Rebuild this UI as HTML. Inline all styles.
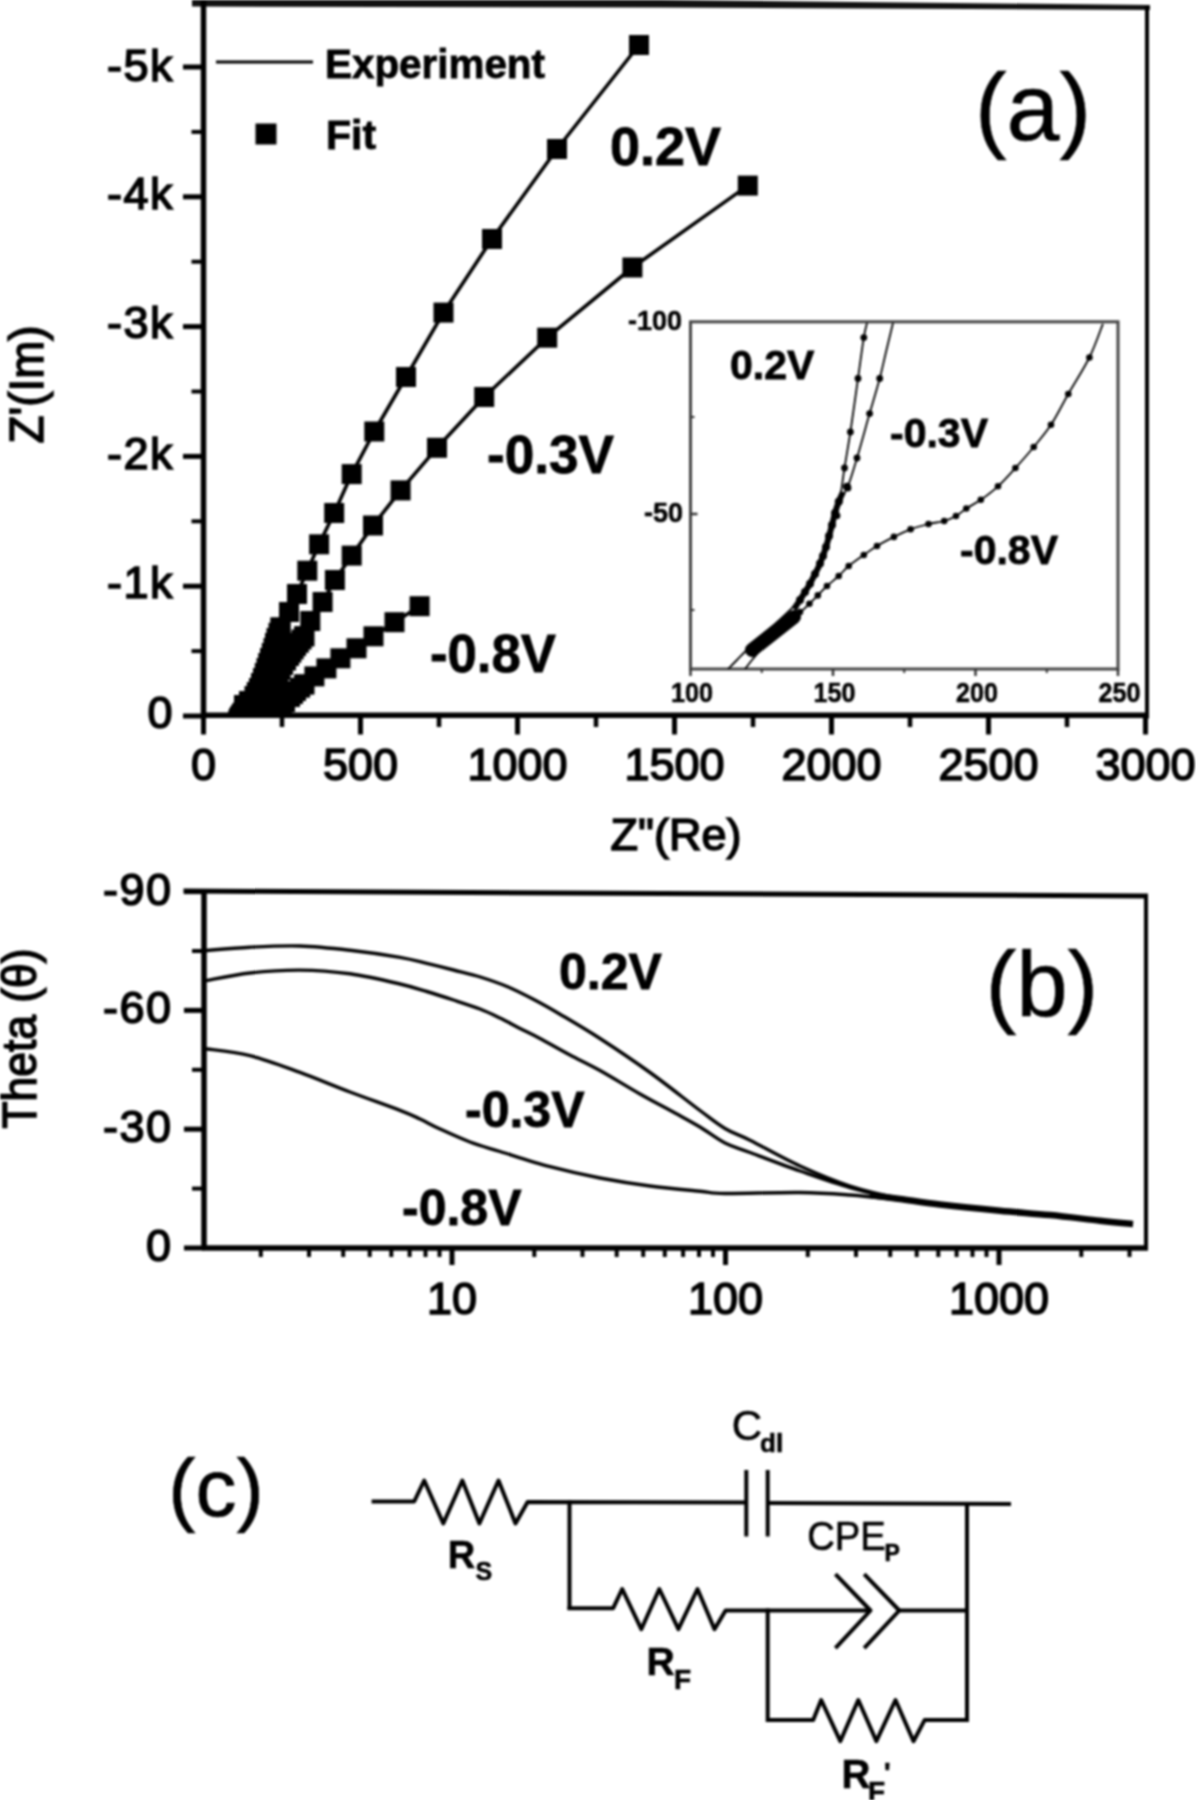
<!DOCTYPE html>
<html><head><meta charset="utf-8"><style>
html,body{margin:0;padding:0;background:#fff;}
svg{display:block;filter:blur(1px);}
text{font-family:"Liberation Sans",sans-serif;fill:#000;}
.lab{stroke:#000;stroke-width:1.6px;}
.big{stroke:#000;stroke-width:0.6px;}
.sm{stroke:#000;stroke-width:0.5px;}
.cl{stroke:#000;stroke-width:0.6px;}
.bd{stroke:#000;stroke-width:0.8px;}
</style></head><body>
<svg width="1196" height="1800" viewBox="0 0 1196 1800">
<rect width="1196" height="1800" fill="#fff"/>
<polygon points="192,0 660,0 1150,5 1150,10 660,7.5 192,6.5" fill="#111"/>
<line x1="203.5" y1="0.0" x2="203.5" y2="718.5" stroke="#000" stroke-width="5.5"/>
<line x1="201.0" y1="715.2" x2="1149.0" y2="715.2" stroke="#000" stroke-width="5.5"/>
<line x1="1147.0" y1="6.0" x2="1147.0" y2="718.5" stroke="#000" stroke-width="4"/>
<line x1="183.0" y1="716.0" x2="203.0" y2="716.0" stroke="#000" stroke-width="5"/>
<line x1="183.0" y1="586.2" x2="203.0" y2="586.2" stroke="#000" stroke-width="5"/>
<line x1="183.0" y1="456.4" x2="203.0" y2="456.4" stroke="#000" stroke-width="5"/>
<line x1="183.0" y1="326.6" x2="203.0" y2="326.6" stroke="#000" stroke-width="5"/>
<line x1="183.0" y1="196.8" x2="203.0" y2="196.8" stroke="#000" stroke-width="5"/>
<line x1="183.0" y1="67.0" x2="203.0" y2="67.0" stroke="#000" stroke-width="5"/>
<line x1="191.5" y1="651.1" x2="203.0" y2="651.1" stroke="#000" stroke-width="4"/>
<line x1="191.5" y1="521.3" x2="203.0" y2="521.3" stroke="#000" stroke-width="4"/>
<line x1="191.5" y1="391.5" x2="203.0" y2="391.5" stroke="#000" stroke-width="4"/>
<line x1="191.5" y1="261.7" x2="203.0" y2="261.7" stroke="#000" stroke-width="4"/>
<line x1="191.5" y1="131.9" x2="203.0" y2="131.9" stroke="#000" stroke-width="4"/>
<line x1="203.5" y1="715.0" x2="203.5" y2="734.5" stroke="#000" stroke-width="5"/>
<line x1="360.5" y1="715.0" x2="360.5" y2="734.5" stroke="#000" stroke-width="5"/>
<line x1="517.5" y1="715.0" x2="517.5" y2="734.5" stroke="#000" stroke-width="5"/>
<line x1="674.5" y1="715.0" x2="674.5" y2="734.5" stroke="#000" stroke-width="5"/>
<line x1="831.5" y1="715.0" x2="831.5" y2="734.5" stroke="#000" stroke-width="5"/>
<line x1="988.5" y1="715.0" x2="988.5" y2="734.5" stroke="#000" stroke-width="5"/>
<line x1="1145.5" y1="715.0" x2="1145.5" y2="734.5" stroke="#000" stroke-width="5"/>
<line x1="282.0" y1="715.0" x2="282.0" y2="727.0" stroke="#000" stroke-width="4.5"/>
<line x1="439.0" y1="715.0" x2="439.0" y2="727.0" stroke="#000" stroke-width="4.5"/>
<line x1="596.0" y1="715.0" x2="596.0" y2="727.0" stroke="#000" stroke-width="4.5"/>
<line x1="753.0" y1="715.0" x2="753.0" y2="727.0" stroke="#000" stroke-width="4.5"/>
<line x1="910.0" y1="715.0" x2="910.0" y2="727.0" stroke="#000" stroke-width="4.5"/>
<line x1="1067.0" y1="715.0" x2="1067.0" y2="727.0" stroke="#000" stroke-width="4.5"/>
<text x="174.0" y="727.5" font-size="45" text-anchor="end" font-weight="normal" class="lab" letter-spacing="1.5">0</text>
<text x="174.0" y="598.4" font-size="45" text-anchor="end" font-weight="normal" class="lab" letter-spacing="1.5">-1k</text>
<text x="174.0" y="468.6" font-size="45" text-anchor="end" font-weight="normal" class="lab" letter-spacing="1.5">-2k</text>
<text x="174.0" y="338.3" font-size="45" text-anchor="end" font-weight="normal" class="lab" letter-spacing="1.5">-3k</text>
<text x="174.0" y="208.8" font-size="45" text-anchor="end" font-weight="normal" class="lab" letter-spacing="1.5">-4k</text>
<text x="174.0" y="81.3" font-size="45" text-anchor="end" font-weight="normal" class="lab" letter-spacing="1.5">-5k</text>
<text x="203.5" y="780.0" font-size="45" text-anchor="middle" font-weight="normal" class="lab">0</text>
<text x="360.5" y="780.0" font-size="45" text-anchor="middle" font-weight="normal" class="lab">500</text>
<text x="517.5" y="780.0" font-size="45" text-anchor="middle" font-weight="normal" class="lab">1000</text>
<text x="674.5" y="780.0" font-size="45" text-anchor="middle" font-weight="normal" class="lab">1500</text>
<text x="831.5" y="780.0" font-size="45" text-anchor="middle" font-weight="normal" class="lab">2000</text>
<text x="988.5" y="780.0" font-size="45" text-anchor="middle" font-weight="normal" class="lab">2500</text>
<text x="1145.5" y="780.0" font-size="45" text-anchor="middle" font-weight="normal" class="lab">3000</text>
<text x="676.0" y="850.0" font-size="45" text-anchor="middle" font-weight="normal" class="lab">Z"(Re)</text>
<text transform="translate(43,384.5) rotate(-90)" font-size="49" text-anchor="middle" class="lab" textLength="118" lengthAdjust="spacingAndGlyphs">Z'(Im)</text>
<line x1="216.0" y1="62.0" x2="313.0" y2="62.0" stroke="#000" stroke-width="3"/>
<text x="325.0" y="78.0" font-size="41" text-anchor="start" font-weight="bold" class="bd" textLength="220" lengthAdjust="spacingAndGlyphs">Experiment</text>
<rect x="255.5" y="123.5" width="21" height="21"/>
<text x="326.0" y="149.0" font-size="41" text-anchor="start" font-weight="bold" class="bd">Fit</text>
<text x="1033.0" y="139.5" font-size="95" text-anchor="middle" font-weight="normal" class="big">(a)</text>
<text x="610.0" y="165.0" font-size="54" text-anchor="start" font-weight="bold" class="bd">0.2V</text>
<text x="487.0" y="472.5" font-size="54" text-anchor="start" font-weight="bold" class="bd" textLength="127" lengthAdjust="spacingAndGlyphs">-0.3V</text>
<text x="430.0" y="671.5" font-size="54" text-anchor="start" font-weight="bold" class="bd" textLength="126" lengthAdjust="spacingAndGlyphs">-0.8V</text>
<polyline points="639.0,45.0 557.0,149.0 492.0,239.0 443.5,312.6 406.0,377.0 374.3,431.5 351.7,474.1 334.2,513.0 319.1,544.3 307.3,570.7 297.0,594.0 289.0,612.0 280.5,627.5 276.5,638.0 273.5,648.0 270.0,658.0 266.5,668.0 263.0,678.0 259.0,688.0 254.5,696.0 249.0,701.0 244.0,705.0" fill="none" stroke="#000" stroke-width="3.6" stroke-linejoin="round" />
<rect x="629.0" y="35.0" width="20" height="20"/>
<rect x="547.0" y="139.0" width="20" height="20"/>
<rect x="482.0" y="229.0" width="20" height="20"/>
<rect x="433.5" y="302.6" width="20" height="20"/>
<rect x="396.0" y="367.0" width="20" height="20"/>
<rect x="364.3" y="421.5" width="20" height="20"/>
<rect x="341.7" y="464.1" width="20" height="20"/>
<rect x="324.2" y="503.0" width="20" height="20"/>
<rect x="309.1" y="534.3" width="20" height="20"/>
<rect x="297.3" y="560.7" width="20" height="20"/>
<rect x="287.0" y="584.0" width="20" height="20"/>
<rect x="279.0" y="602.0" width="20" height="20"/>
<rect x="270.5" y="617.5" width="20" height="20"/>
<rect x="270.5" y="617.5" width="20" height="20"/>
<rect x="268.5" y="622.8" width="20" height="20"/>
<rect x="266.5" y="628.0" width="20" height="20"/>
<rect x="265.0" y="633.0" width="20" height="20"/>
<rect x="263.5" y="638.0" width="20" height="20"/>
<rect x="261.8" y="643.0" width="20" height="20"/>
<rect x="260.0" y="648.0" width="20" height="20"/>
<rect x="258.2" y="653.0" width="20" height="20"/>
<rect x="256.5" y="658.0" width="20" height="20"/>
<rect x="254.8" y="663.0" width="20" height="20"/>
<rect x="253.0" y="668.0" width="20" height="20"/>
<rect x="251.0" y="673.0" width="20" height="20"/>
<rect x="249.0" y="678.0" width="20" height="20"/>
<rect x="246.8" y="682.0" width="20" height="20"/>
<rect x="244.5" y="686.0" width="20" height="20"/>
<rect x="239.0" y="691.0" width="20" height="20"/>
<rect x="234.0" y="695.0" width="20" height="20"/>
<polyline points="747.8,185.6 632.4,267.5 547.2,337.7 484.2,397.0 437.0,447.8 400.6,490.4 373.0,525.5 351.7,555.6 334.9,580.0 322.6,602.0 310.3,621.0 304.3,636.3 296.0,646.0 289.0,656.0 283.0,665.0 278.0,675.0 273.0,685.0 268.0,695.0 263.0,703.0 258.0,706.0" fill="none" stroke="#000" stroke-width="3.6" stroke-linejoin="round" />
<rect x="737.8" y="175.6" width="20" height="20"/>
<rect x="622.4" y="257.5" width="20" height="20"/>
<rect x="537.2" y="327.7" width="20" height="20"/>
<rect x="474.2" y="387.0" width="20" height="20"/>
<rect x="427.0" y="437.8" width="20" height="20"/>
<rect x="390.6" y="480.4" width="20" height="20"/>
<rect x="363.0" y="515.5" width="20" height="20"/>
<rect x="341.7" y="545.6" width="20" height="20"/>
<rect x="324.9" y="570.0" width="20" height="20"/>
<rect x="312.6" y="592.0" width="20" height="20"/>
<rect x="300.3" y="611.0" width="20" height="20"/>
<rect x="294.3" y="626.3" width="20" height="20"/>
<rect x="294.3" y="626.3" width="20" height="20"/>
<rect x="291.5" y="629.5" width="20" height="20"/>
<rect x="288.8" y="632.8" width="20" height="20"/>
<rect x="286.0" y="636.0" width="20" height="20"/>
<rect x="283.7" y="639.3" width="20" height="20"/>
<rect x="281.3" y="642.7" width="20" height="20"/>
<rect x="279.0" y="646.0" width="20" height="20"/>
<rect x="276.0" y="650.5" width="20" height="20"/>
<rect x="273.0" y="655.0" width="20" height="20"/>
<rect x="270.5" y="660.0" width="20" height="20"/>
<rect x="268.0" y="665.0" width="20" height="20"/>
<rect x="265.5" y="670.0" width="20" height="20"/>
<rect x="263.0" y="675.0" width="20" height="20"/>
<rect x="260.5" y="680.0" width="20" height="20"/>
<rect x="258.0" y="685.0" width="20" height="20"/>
<rect x="255.5" y="689.0" width="20" height="20"/>
<rect x="253.0" y="693.0" width="20" height="20"/>
<rect x="248.0" y="696.0" width="20" height="20"/>
<polyline points="419.6,606.2 394.5,622.2 373.5,636.3 356.5,648.3 340.4,658.3 326.4,668.4 314.4,676.4 304.3,684.4 296.0,691.0 290.0,697.0 285.0,702.0 282.0,706.0" fill="none" stroke="#000" stroke-width="3.6" stroke-linejoin="round" />
<rect x="409.6" y="596.2" width="20" height="20"/>
<rect x="384.5" y="612.2" width="20" height="20"/>
<rect x="363.5" y="626.3" width="20" height="20"/>
<rect x="346.5" y="638.3" width="20" height="20"/>
<rect x="330.4" y="648.3" width="20" height="20"/>
<rect x="316.4" y="658.4" width="20" height="20"/>
<rect x="304.4" y="666.4" width="20" height="20"/>
<rect x="294.3" y="674.4" width="20" height="20"/>
<rect x="294.3" y="674.4" width="20" height="20"/>
<rect x="290.1" y="677.7" width="20" height="20"/>
<rect x="286.0" y="681.0" width="20" height="20"/>
<rect x="283.0" y="684.0" width="20" height="20"/>
<rect x="280.0" y="687.0" width="20" height="20"/>
<rect x="275.0" y="692.0" width="20" height="20"/>
<rect x="272.0" y="696.0" width="20" height="20"/>
<polygon points="227,716 229,709 233,703 238,699 244,697 246,716"/>
<rect x="690.5" y="321.8" width="427.5" height="347.2" fill="#fff" stroke="#444" stroke-width="3"/>
<line x1="690.5" y1="669.0" x2="690.5" y2="676.0" stroke="#333" stroke-width="2.5"/>
<line x1="833.0" y1="669.0" x2="833.0" y2="676.0" stroke="#333" stroke-width="2.5"/>
<line x1="975.5" y1="669.0" x2="975.5" y2="676.0" stroke="#333" stroke-width="2.5"/>
<line x1="1118.0" y1="669.0" x2="1118.0" y2="676.0" stroke="#333" stroke-width="2.5"/>
<line x1="761.8" y1="669.0" x2="761.8" y2="673.0" stroke="#333" stroke-width="2"/>
<line x1="904.2" y1="669.0" x2="904.2" y2="673.0" stroke="#333" stroke-width="2"/>
<line x1="1046.8" y1="669.0" x2="1046.8" y2="673.0" stroke="#333" stroke-width="2"/>
<line x1="690.5" y1="514.0" x2="697.5" y2="514.0" stroke="#333" stroke-width="2.5"/>
<line x1="690.5" y1="417.0" x2="694.5" y2="417.0" stroke="#333" stroke-width="2"/>
<line x1="690.5" y1="610.0" x2="694.5" y2="610.0" stroke="#333" stroke-width="2"/>
<text x="692.0" y="701.5" font-size="27.5" text-anchor="middle" font-weight="bold" class="sm" textLength="42" lengthAdjust="spacingAndGlyphs">100</text>
<text x="834.5" y="701.5" font-size="27.5" text-anchor="middle" font-weight="bold" class="sm" textLength="42" lengthAdjust="spacingAndGlyphs">150</text>
<text x="977.0" y="701.5" font-size="27.5" text-anchor="middle" font-weight="bold" class="sm" textLength="42" lengthAdjust="spacingAndGlyphs">200</text>
<text x="1119.5" y="701.5" font-size="27.5" text-anchor="middle" font-weight="bold" class="sm" textLength="42" lengthAdjust="spacingAndGlyphs">250</text>
<text x="682.0" y="329.5" font-size="27" text-anchor="end" font-weight="bold" class="sm" textLength="54" lengthAdjust="spacingAndGlyphs">-100</text>
<text x="683.0" y="521.5" font-size="27" text-anchor="end" font-weight="bold" class="sm" textLength="39" lengthAdjust="spacingAndGlyphs">-50</text>
<text x="730.0" y="379.0" font-size="41" text-anchor="start" font-weight="bold" class="bd">0.2V</text>
<text x="890.0" y="447.0" font-size="41" text-anchor="start" font-weight="bold" class="bd">-0.3V</text>
<text x="960.0" y="564.0" font-size="41" text-anchor="start" font-weight="bold" class="bd">-0.8V</text>
<clipPath id="ic"><rect x="690.5" y="321.8" width="427.5" height="347.2"/></clipPath>
<g clip-path="url(#ic)">
<path d="M728.0,669.0 C729.5,667.5 733.9,663.2 737.0,660.0 C740.1,656.8 742.9,653.8 746.7,650.0 C750.5,646.2 755.3,641.3 760.0,637.0 C764.7,632.7 770.0,628.5 775.0,624.0 C780.0,619.5 785.8,614.2 790.0,610.0 C794.2,605.8 796.7,603.5 800.0,599.0 C803.3,594.5 806.7,589.0 810.0,583.0 C813.3,577.0 817.3,569.2 820.0,563.0 C822.7,556.8 824.2,552.2 826.0,546.0 C827.8,539.8 829.5,531.7 831.0,526.0 C832.5,520.3 833.6,516.2 835.0,512.0 C836.4,507.8 837.9,507.9 839.5,500.6 C841.1,493.3 842.7,479.4 844.5,468.0 C846.3,456.6 848.1,446.9 850.4,432.0 C852.6,417.1 855.8,394.2 858.0,378.5 C860.2,362.8 862.3,346.9 863.8,337.6 C865.3,328.4 866.5,325.4 867.0,323.0" fill="none" stroke="#000" stroke-width="1.8" stroke-linejoin="round"/>
<path d="M745.0,669.0 C746.2,667.5 749.2,663.5 752.0,660.0 C754.8,656.5 758.2,652.7 762.0,648.0 C765.8,643.3 770.3,637.2 775.0,632.0 C779.7,626.8 785.8,621.8 790.0,617.0 C794.2,612.2 796.7,608.3 800.0,603.0 C803.3,597.7 806.7,591.3 810.0,585.0 C813.3,578.7 817.3,571.2 820.0,565.0 C822.7,558.8 824.0,554.3 826.0,548.0 C828.0,541.7 830.2,532.8 832.0,527.0 C833.8,521.2 835.5,517.7 837.0,513.0 C838.5,508.3 839.2,503.5 841.0,499.0 C842.8,494.5 845.3,492.8 848.0,486.0 C850.7,479.2 853.4,470.1 857.0,458.0 C860.6,445.9 865.8,426.9 869.6,413.6 C873.4,400.4 877.0,388.8 879.7,378.5 C882.4,368.2 883.8,361.2 886.0,352.0 C888.2,342.8 891.8,327.8 893.0,323.0" fill="none" stroke="#000" stroke-width="1.8" stroke-linejoin="round"/>
<path d="M760.0,640.0 C763.3,637.0 773.3,626.7 780.0,622.0 C786.7,617.3 795.1,615.0 800.0,612.0 C804.9,609.0 806.4,606.5 809.4,603.7 C812.4,600.9 814.9,598.4 817.8,595.4 C820.7,592.4 823.5,589.2 827.0,586.0 C830.5,582.8 835.1,579.3 838.7,576.0 C842.3,572.7 844.5,569.5 848.7,566.0 C852.9,562.5 859.1,558.3 863.8,555.0 C868.5,551.7 872.0,549.0 877.0,546.0 C882.0,543.0 888.3,539.7 893.9,536.9 C899.5,534.1 904.8,531.4 910.6,529.3 C916.4,527.1 922.9,525.4 928.5,524.0 C934.1,522.6 939.6,522.3 944.2,521.0 C948.8,519.7 952.3,518.1 956.0,516.0 C959.7,513.9 962.2,511.2 966.3,508.5 C970.4,505.8 975.5,503.5 980.8,499.8 C986.1,496.1 992.2,491.6 998.0,486.3 C1003.8,481.0 1009.4,474.6 1015.4,468.0 C1021.4,461.4 1027.8,454.2 1033.7,447.0 C1039.6,439.8 1045.2,433.6 1051.0,424.8 C1056.8,416.0 1061.9,405.2 1068.3,394.0 C1074.7,382.8 1083.6,369.2 1089.4,357.5 C1095.2,345.8 1100.7,329.4 1102.9,323.8" fill="none" stroke="#000" stroke-width="1.8" stroke-linejoin="round"/>
<circle cx="863.8" cy="337.6" r="3.4"/>
<circle cx="858.0" cy="378.5" r="3.4"/>
<circle cx="850.4" cy="432.0" r="3.4"/>
<circle cx="844.5" cy="468.0" r="3.4"/>
<circle cx="839.5" cy="500.6" r="3.4"/>
<circle cx="837.0" cy="515.7" r="3.4"/>
<circle cx="879.7" cy="378.5" r="3.4"/>
<circle cx="869.6" cy="413.6" r="3.4"/>
<circle cx="857.0" cy="458.0" r="3.4"/>
<circle cx="848.0" cy="488.0" r="3.4"/>
<circle cx="847.0" cy="486.7" r="4"/>
<circle cx="838.7" cy="501.7" r="4"/>
<circle cx="835.0" cy="513.0" r="4"/>
<circle cx="832.0" cy="525.0" r="4"/>
<circle cx="829.0" cy="536.0" r="4"/>
<circle cx="826.0" cy="547.0" r="4"/>
<circle cx="823.0" cy="556.0" r="4"/>
<circle cx="820.0" cy="563.6" r="4"/>
<circle cx="815.0" cy="574.0" r="4"/>
<circle cx="810.0" cy="583.7" r="4"/>
<circle cx="805.0" cy="592.0" r="4"/>
<circle cx="800.0" cy="600.0" r="4"/>
<circle cx="800.0" cy="612.0" r="3.3"/>
<circle cx="809.4" cy="603.7" r="3.3"/>
<circle cx="817.8" cy="595.4" r="3.3"/>
<circle cx="827.0" cy="586.0" r="3.3"/>
<circle cx="838.7" cy="576.0" r="3.3"/>
<circle cx="848.7" cy="566.0" r="3.3"/>
<circle cx="863.8" cy="555.0" r="3.3"/>
<circle cx="877.0" cy="546.0" r="3.3"/>
<circle cx="893.9" cy="536.9" r="3.3"/>
<circle cx="910.6" cy="529.3" r="3.3"/>
<circle cx="928.5" cy="524.0" r="3.3"/>
<circle cx="944.2" cy="521.0" r="3.3"/>
<circle cx="956.0" cy="516.0" r="3.3"/>
<circle cx="966.3" cy="508.5" r="3.3"/>
<circle cx="980.8" cy="499.8" r="3.3"/>
<circle cx="998.0" cy="486.3" r="3.3"/>
<circle cx="1015.4" cy="468.0" r="3.3"/>
<circle cx="1033.7" cy="447.0" r="3.3"/>
<circle cx="1051.0" cy="424.8" r="3.3"/>
<circle cx="1068.3" cy="394.0" r="3.3"/>
<circle cx="1089.4" cy="357.5" r="3.3"/>
<line x1="752" y1="650" x2="794" y2="617" stroke="#000" stroke-width="14" stroke-linecap="round"/>
<path d="M794.0,609.0 C795.0,607.5 798.2,602.8 800.0,600.0 C801.8,597.2 803.3,594.7 805.0,592.0 C806.7,589.3 808.3,586.7 810.0,583.7 C811.7,580.7 813.3,577.4 815.0,574.0 C816.7,570.6 818.2,568.1 820.0,563.6 C821.8,559.1 824.0,553.4 826.0,547.0 C828.0,540.6 830.5,530.7 832.0,525.0 C833.5,519.3 833.9,516.9 835.0,513.0 C836.1,509.1 837.4,505.2 838.7,501.7 C840.0,498.2 842.3,493.6 843.0,492.0" fill="none" stroke="#000" stroke-width="6" stroke-linejoin="round"/>
</g>
<polygon points="183.5,888.5 1148,893.5 1148,898.5 183.5,893.5" fill="#000"/>
<line x1="204.0" y1="889.0" x2="204.0" y2="1250.0" stroke="#000" stroke-width="5.5"/>
<line x1="202.0" y1="1248.0" x2="1148.0" y2="1248.0" stroke="#000" stroke-width="5.5"/>
<line x1="1146.0" y1="894.0" x2="1146.0" y2="1250.0" stroke="#000" stroke-width="4"/>
<line x1="184.0" y1="1248.0" x2="204.0" y2="1248.0" stroke="#000" stroke-width="5"/>
<text x="172.5" y="1261.0" font-size="45" text-anchor="end" font-weight="normal" class="lab" letter-spacing="1.5">0</text>
<line x1="184.0" y1="1129.2" x2="204.0" y2="1129.2" stroke="#000" stroke-width="5"/>
<text x="172.5" y="1142.2" font-size="45" text-anchor="end" font-weight="normal" class="lab" letter-spacing="1.5">-30</text>
<line x1="184.0" y1="1010.4" x2="204.0" y2="1010.4" stroke="#000" stroke-width="5"/>
<text x="172.5" y="1023.4" font-size="45" text-anchor="end" font-weight="normal" class="lab" letter-spacing="1.5">-60</text>
<line x1="184.0" y1="891.6" x2="204.0" y2="891.6" stroke="#000" stroke-width="5"/>
<text x="172.5" y="904.6" font-size="45" text-anchor="end" font-weight="normal" class="lab" letter-spacing="1.5">-90</text>
<line x1="192.0" y1="1188.6" x2="204.0" y2="1188.6" stroke="#000" stroke-width="4"/>
<line x1="192.0" y1="1069.8" x2="204.0" y2="1069.8" stroke="#000" stroke-width="4"/>
<line x1="192.0" y1="951.0" x2="204.0" y2="951.0" stroke="#000" stroke-width="4"/>
<line x1="260.8" y1="1248.0" x2="260.8" y2="1257.0" stroke="#000" stroke-width="4"/>
<line x1="309.0" y1="1248.0" x2="309.0" y2="1257.0" stroke="#000" stroke-width="4"/>
<line x1="343.2" y1="1248.0" x2="343.2" y2="1257.0" stroke="#000" stroke-width="4"/>
<line x1="369.7" y1="1248.0" x2="369.7" y2="1257.0" stroke="#000" stroke-width="4"/>
<line x1="391.3" y1="1248.0" x2="391.3" y2="1257.0" stroke="#000" stroke-width="4"/>
<line x1="409.6" y1="1248.0" x2="409.6" y2="1257.0" stroke="#000" stroke-width="4"/>
<line x1="425.5" y1="1248.0" x2="425.5" y2="1257.0" stroke="#000" stroke-width="4"/>
<line x1="439.5" y1="1248.0" x2="439.5" y2="1257.0" stroke="#000" stroke-width="4"/>
<line x1="452.0" y1="1248.0" x2="452.0" y2="1265.0" stroke="#000" stroke-width="5"/>
<line x1="534.3" y1="1248.0" x2="534.3" y2="1257.0" stroke="#000" stroke-width="4"/>
<line x1="582.5" y1="1248.0" x2="582.5" y2="1257.0" stroke="#000" stroke-width="4"/>
<line x1="616.7" y1="1248.0" x2="616.7" y2="1257.0" stroke="#000" stroke-width="4"/>
<line x1="643.2" y1="1248.0" x2="643.2" y2="1257.0" stroke="#000" stroke-width="4"/>
<line x1="664.8" y1="1248.0" x2="664.8" y2="1257.0" stroke="#000" stroke-width="4"/>
<line x1="683.1" y1="1248.0" x2="683.1" y2="1257.0" stroke="#000" stroke-width="4"/>
<line x1="699.0" y1="1248.0" x2="699.0" y2="1257.0" stroke="#000" stroke-width="4"/>
<line x1="713.0" y1="1248.0" x2="713.0" y2="1257.0" stroke="#000" stroke-width="4"/>
<line x1="725.5" y1="1248.0" x2="725.5" y2="1265.0" stroke="#000" stroke-width="5"/>
<line x1="807.8" y1="1248.0" x2="807.8" y2="1257.0" stroke="#000" stroke-width="4"/>
<line x1="856.0" y1="1248.0" x2="856.0" y2="1257.0" stroke="#000" stroke-width="4"/>
<line x1="890.2" y1="1248.0" x2="890.2" y2="1257.0" stroke="#000" stroke-width="4"/>
<line x1="916.7" y1="1248.0" x2="916.7" y2="1257.0" stroke="#000" stroke-width="4"/>
<line x1="938.3" y1="1248.0" x2="938.3" y2="1257.0" stroke="#000" stroke-width="4"/>
<line x1="956.6" y1="1248.0" x2="956.6" y2="1257.0" stroke="#000" stroke-width="4"/>
<line x1="972.5" y1="1248.0" x2="972.5" y2="1257.0" stroke="#000" stroke-width="4"/>
<line x1="986.5" y1="1248.0" x2="986.5" y2="1257.0" stroke="#000" stroke-width="4"/>
<line x1="999.0" y1="1248.0" x2="999.0" y2="1265.0" stroke="#000" stroke-width="5"/>
<line x1="1081.3" y1="1248.0" x2="1081.3" y2="1257.0" stroke="#000" stroke-width="4"/>
<line x1="1129.5" y1="1248.0" x2="1129.5" y2="1257.0" stroke="#000" stroke-width="4"/>
<text x="452.0" y="1314.0" font-size="45" text-anchor="middle" font-weight="normal" class="lab">10</text>
<text x="725.5" y="1314.0" font-size="45" text-anchor="middle" font-weight="normal" class="lab">100</text>
<text x="999.0" y="1314.0" font-size="45" text-anchor="middle" font-weight="normal" class="lab">1000</text>
<text transform="translate(35.5,1038.5) rotate(-90)" font-size="49" text-anchor="middle" class="lab" textLength="180" lengthAdjust="spacingAndGlyphs">Theta (θ)</text>
<text x="1042.0" y="1016.0" font-size="92" text-anchor="middle" font-weight="normal" class="big">(b)</text>
<text x="559.0" y="989.0" font-size="50" text-anchor="start" font-weight="bold" class="bd">0.2V</text>
<text x="465.0" y="1127.0" font-size="50" text-anchor="start" font-weight="bold" class="bd">-0.3V</text>
<text x="402.0" y="1225.0" font-size="50" text-anchor="start" font-weight="bold" class="bd">-0.8V</text>
<path d="M204.0,950.7 C211.7,950.1 234.0,948.0 250.0,947.2 C266.0,946.4 283.3,945.5 300.0,946.0 C316.7,946.5 333.3,948.4 350.0,950.3 C366.7,952.2 387.2,955.2 400.0,957.4 C412.8,959.6 417.9,961.3 426.8,963.4 C435.7,965.5 444.6,967.7 453.5,970.0 C462.4,972.3 471.4,974.2 480.3,977.0 C489.2,979.8 498.1,982.8 507.0,986.5 C515.9,990.2 525.0,994.9 533.8,999.5 C542.6,1004.1 549.0,1007.7 560.0,1014.2 C571.0,1020.7 585.0,1028.8 600.0,1038.5 C615.0,1048.2 633.3,1060.5 650.0,1072.5 C666.7,1084.5 687.5,1101.2 700.0,1110.5 C712.5,1119.8 716.7,1123.5 725.0,1128.5 C733.3,1133.5 737.5,1134.0 750.0,1140.2 C762.5,1146.5 783.3,1158.4 800.0,1166.0 C816.7,1173.6 833.3,1180.6 850.0,1186.0 C866.7,1191.4 885.0,1195.4 900.0,1198.5 C915.0,1201.6 923.3,1202.6 940.0,1204.6 C956.7,1206.6 981.7,1209.0 1000.0,1210.7 C1018.3,1212.5 1033.3,1213.4 1050.0,1215.1 C1066.7,1216.8 1086.2,1219.2 1100.0,1220.7 C1113.8,1222.2 1127.5,1223.4 1133.0,1223.9" fill="none" stroke="#000" stroke-width="3.4" stroke-linejoin="round"/>
<path d="M204.0,981.0 C211.7,979.7 234.0,974.8 250.0,973.0 C266.0,971.2 283.3,970.0 300.0,970.1 C316.7,970.2 333.3,971.5 350.0,973.8 C366.7,976.1 387.2,981.0 400.0,984.0 C412.8,987.0 417.9,988.8 426.8,991.5 C435.7,994.2 444.6,997.1 453.5,1000.0 C462.4,1002.9 472.2,1006.0 480.0,1009.0 C487.8,1012.0 493.3,1014.8 500.0,1018.0 C506.7,1021.2 513.3,1025.1 520.0,1028.5 C526.7,1031.9 531.7,1034.1 540.0,1038.5 C548.3,1042.9 560.0,1049.7 570.0,1055.0 C580.0,1060.3 588.3,1064.0 600.0,1070.5 C611.7,1077.0 627.5,1086.9 640.0,1094.0 C652.5,1101.1 665.0,1107.5 675.0,1113.0 C685.0,1118.5 691.7,1122.0 700.0,1127.0 C708.3,1132.0 716.7,1138.8 725.0,1143.0 C733.3,1147.2 737.5,1147.8 750.0,1152.5 C762.5,1157.2 783.3,1165.2 800.0,1171.0 C816.7,1176.8 833.3,1182.8 850.0,1187.5 C866.7,1192.2 885.0,1196.7 900.0,1199.5 C915.0,1202.3 923.3,1202.7 940.0,1204.6 C956.7,1206.5 981.7,1209.0 1000.0,1210.7 C1018.3,1212.5 1033.3,1213.4 1050.0,1215.1 C1066.7,1216.8 1086.2,1219.2 1100.0,1220.7 C1113.8,1222.2 1127.5,1223.4 1133.0,1223.9" fill="none" stroke="#000" stroke-width="3.4" stroke-linejoin="round"/>
<path d="M204.0,1048.5 C211.7,1049.7 234.0,1051.7 250.0,1055.7 C266.0,1059.7 283.3,1066.4 300.0,1072.4 C316.7,1078.5 333.3,1085.7 350.0,1092.0 C366.7,1098.3 388.3,1105.9 400.0,1110.4 C411.7,1114.9 413.3,1115.9 420.0,1119.0 C426.7,1122.1 431.7,1125.2 440.0,1129.0 C448.3,1132.8 460.0,1138.2 470.0,1142.0 C480.0,1145.8 486.7,1147.4 500.0,1151.5 C513.3,1155.6 533.3,1162.3 550.0,1166.7 C566.7,1171.1 583.3,1174.8 600.0,1178.0 C616.7,1181.2 633.3,1183.8 650.0,1186.0 C666.7,1188.2 687.5,1190.0 700.0,1191.2 C712.5,1192.5 708.3,1193.3 725.0,1193.5 C741.7,1193.7 779.2,1192.2 800.0,1192.5 C820.8,1192.8 833.3,1193.8 850.0,1195.0 C866.7,1196.2 885.0,1198.4 900.0,1200.0 C915.0,1201.6 923.3,1202.8 940.0,1204.6 C956.7,1206.4 981.7,1209.0 1000.0,1210.7 C1018.3,1212.5 1033.3,1213.4 1050.0,1215.1 C1066.7,1216.8 1086.2,1219.2 1100.0,1220.7 C1113.8,1222.2 1127.5,1223.4 1133.0,1223.9" fill="none" stroke="#000" stroke-width="3.4" stroke-linejoin="round"/>
<path d="M870.0,1195.0 C875.0,1195.7 888.3,1197.4 900.0,1199.0 C911.7,1200.6 923.3,1202.6 940.0,1204.6 C956.7,1206.5 981.7,1209.0 1000.0,1210.7 C1018.3,1212.5 1033.3,1213.4 1050.0,1215.1 C1066.7,1216.8 1086.2,1219.2 1100.0,1220.7 C1113.8,1222.2 1127.5,1223.4 1133.0,1223.9" fill="none" stroke="#000" stroke-width="6.5" stroke-linejoin="round"/>
<text x="216.0" y="1515.5" font-size="82" text-anchor="middle" font-weight="normal" class="big">(c)</text>
<polyline points="371.6,1501.5 414.2,1501.5 424.2,1480.5 443.3,1523.5 462.3,1480.5 479.4,1523.5 498.5,1480.5 515.5,1523.5 527.6,1502.0 746.3,1502.5" fill="none" stroke="#000" stroke-width="4" stroke-linejoin="round" stroke-linejoin="miter" stroke-miterlimit="10"/>
<line x1="767.7" y1="1503.0" x2="1011.0" y2="1504.0" stroke="#000" stroke-width="4"/>
<line x1="746.3" y1="1470.0" x2="746.3" y2="1536.5" stroke="#000" stroke-width="4"/>
<line x1="767.7" y1="1470.0" x2="767.7" y2="1536.5" stroke="#000" stroke-width="4"/>
<line x1="569.5" y1="1500.0" x2="569.5" y2="1610.0" stroke="#000" stroke-width="4"/>
<polyline points="567.5,1608.2 613.2,1608.2 622.2,1589.0 641.3,1629.2 659.3,1589.0 678.4,1629.2 697.5,1589.0 714.5,1629.2 725.6,1610.5 870.5,1610.5" fill="none" stroke="#000" stroke-width="4" stroke-linejoin="round" stroke-linejoin="miter" stroke-miterlimit="10"/>
<polyline points="835.4,1574.1 870.5,1610.5 835.4,1648.1" fill="none" stroke="#000" stroke-width="4" stroke-linejoin="round" stroke-linejoin="miter" stroke-miterlimit="10"/>
<polyline points="864.2,1574.1 899.3,1610.5 864.2,1648.1" fill="none" stroke="#000" stroke-width="4" stroke-linejoin="round" stroke-linejoin="miter" stroke-miterlimit="10"/>
<line x1="899.3" y1="1610.5" x2="967.0" y2="1610.5" stroke="#000" stroke-width="4"/>
<line x1="967.0" y1="1502.0" x2="967.0" y2="1722.0" stroke="#000" stroke-width="4"/>
<line x1="767.7" y1="1608.5" x2="767.7" y2="1722.0" stroke="#000" stroke-width="4"/>
<polyline points="767.7,1720.1 813.2,1720.1 821.2,1700.0 840.3,1741.2 858.3,1700.0 876.4,1741.2 895.5,1700.0 913.5,1741.2 924.6,1720.1 969.0,1720.1" fill="none" stroke="#000" stroke-width="4" stroke-linejoin="round" stroke-linejoin="miter" stroke-miterlimit="10"/>
<text x="447.8" y="1568" font-size="38" font-weight="bold" class="cl">R</text>
<text x="475.6" y="1579.5" font-size="25" font-weight="bold" class="cl">S</text>
<text x="731.8" y="1439.5" font-size="42" font-weight="normal" class="cl">C</text>
<text x="760" y="1451.5" font-size="26" font-weight="bold" class="cl">dl</text>
<text x="807.2" y="1549.5" font-size="41" font-weight="normal" class="cl" textLength="78.5" lengthAdjust="spacingAndGlyphs">CPE</text>
<text x="884.5" y="1560.5" font-size="23" font-weight="bold" class="cl">P</text>
<text x="646.4" y="1675" font-size="39" font-weight="bold" class="cl">R</text>
<text x="674" y="1688.7" font-size="28" font-weight="bold" class="cl">F</text>
<text x="841.4" y="1788" font-size="40" font-weight="bold" class="cl">R</text>
<text x="868" y="1800.5" font-size="28" font-weight="bold" class="cl">F</text>
<text x="884" y="1782" font-size="28" font-weight="bold" class="cl">'</text>
</svg>
</body></html>
